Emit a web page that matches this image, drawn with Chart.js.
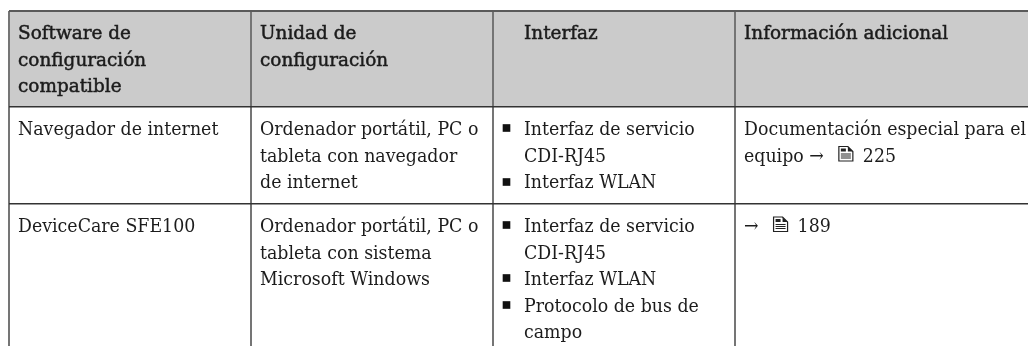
<!DOCTYPE html>
<html>
<head>
<meta charset="utf-8">
<style>
  html, body { margin: 0; padding: 0; background: #fff; }
  #wrap { width: 1028px; height: 346px; position: relative; overflow: hidden; }
</style>
<script src="https://cdn.jsdelivr.net/npm/chart.js@4"></script>
</head>
<body>
<div id="wrap"><canvas id="myChart" width="1028" height="346"></canvas></div>
<script>
// Table text, one array per row, one inner array of lines per column
const headerCells = [
    ["Software de", "configuración", "compatible"],
    ["Unidad de", "configuración"],
    ["Interfaz"],
    ["Información adicional"]
];
const browserCells = [
    ["Navegador de internet"],
    ["Ordenador portátil, PC o", "tableta con navegador", "de internet"],
    ["Interfaz de servicio", "CDI-RJ45", "Interfaz WLAN"],
    ["Documentación especial para el", "equipo →"]
];
const deviceCareCells = [
    ["DeviceCare SFE100"],
    ["Ordenador portátil, PC o", "tableta con sistema", "Microsoft Windows"],
    ["Interfaz de servicio", "CDI-RJ45", "Interfaz WLAN", "Protocolo de bus de", "campo"],
    ["→"]
];
const pageRefs = ["225", "189"];

// Rule positions, on the x and y scales
const columnEdges = [9, 251, 493, 735];
const rowEdges = [11, 107, 204];
const pageEnd = [1028, 346];

// Bullets of the "Interfaz" column
const bulletX = [506.5, 506.5, 506.5, 506.5, 506.5];
const bulletY = [128, 182, 225, 278, 305];

const font = "DejaVu Serif";
const fontSize = 19;
const bodySqueeze = 0.915;   // the original face is narrower than DejaVu Serif
const headSqueeze = 0.97;
const textColor = "#1c1c1c";
const lineHeight = 26.5;

function drawDocIcon(ctx, x, y) {
    // small page symbol in front of the page number, x/y is the top left corner
    ctx.save();
    ctx.strokeStyle = "#222";
    ctx.fillStyle = "#222";
    ctx.lineWidth = 1.2;
    ctx.beginPath();
    ctx.moveTo(x + 1, y + 1);
    ctx.lineTo(x + 10, y + 1);
    ctx.lineTo(x + 15, y + 6);
    ctx.lineTo(x + 15, y + 15.5);
    ctx.lineTo(x + 1, y + 15.5);
    ctx.closePath();
    ctx.stroke();
    ctx.beginPath();
    ctx.moveTo(x + 10, y + 1);
    ctx.lineTo(x + 15, y + 6);
    ctx.lineTo(x + 10, y + 6);
    ctx.closePath();
    ctx.fill();
    ctx.fillRect(x + 3, y + 3, 5, 3);
    ctx.fillRect(x + 3, y + 8, 10, 1);
    ctx.fillRect(x + 3, y + 10, 10, 1);
    ctx.fillRect(x + 3, y + 12, 10, 1);
    ctx.restore();
}

function putText(ctx, str, x, y, squeeze, bold) {
    ctx.save();
    ctx.translate(x, y);
    ctx.scale(squeeze, 1);
    ctx.fillText(str, 0, 0);
    if (bold) {
        ctx.strokeStyle = textColor;
        ctx.lineWidth = 0.5;
        ctx.strokeText(str, 0, 0);
    }
    ctx.restore();
}

const cellText = {
    id: "cellText",
    afterDatasetsDraw(chart) {
        const ctx = chart.ctx;
        const xs = chart.scales.x;
        const ys = chart.scales.y;
        const textLeft = [9, 9, 31, 9];
        const firstBaseline = 28;

        ctx.save();
        ctx.fillStyle = textColor;
        ctx.textBaseline = "alphabetic";
        ctx.font = fontSize + "px '" + font + "'";

        function drawRow(cells, rowIdx, bold) {
            const squeeze = bold ? headSqueeze : bodySqueeze;
            cells.forEach((lines, col) => {
                const x = xs.getPixelForValue(columnEdges[col]) + textLeft[col];
                const top = ys.getPixelForValue(rowEdges[rowIdx]);
                lines.forEach((line, i) => {
                    const y = top + firstBaseline + i * lineHeight;
                    putText(ctx, line, x, y, squeeze, bold);
                    // page reference goes after the arrow
                    if (col === 3 && rowIdx > 0 && i === lines.length - 1) {
                        const ix = x + ctx.measureText(line).width * squeeze + 14;
                        drawDocIcon(ctx, ix, y - 16);
                        putText(ctx, pageRefs[rowIdx - 1], ix + 25, y, squeeze, false);
                    }
                });
            });
        }

        drawRow(headerCells, 0, true);
        drawRow(browserCells, 1, false);
        drawRow(deviceCareCells, 2, false);
        ctx.restore();
    }
};

const config = {
    type: "line",
    data: {
        datasets: [
            {
                // grey header band
                label: "header",
                data: [
                    { x: columnEdges[0], y: rowEdges[0] },
                    { x: pageEnd[0], y: rowEdges[0] }
                ],
                borderWidth: 0,
                pointRadius: 0,
                fill: { value: rowEdges[1] },
                backgroundColor: "#cbcbcb"
            },
            {
                type: "scatter",
                label: "bullets",
                data: bulletX.map((x, i) => ({ x: x, y: bulletY[i] })),
                pointStyle: "rect",
                pointRadius: 5.4,
                backgroundColor: "#111",
                borderWidth: 0
            }
        ]
    },
    options: {
        responsive: false,
        animation: false,
        layout: { autoPadding: false, padding: { left: 9, top: 11, right: 0, bottom: 0 } },
        plugins: {
            legend: { display: false },
            tooltip: { enabled: false }
        },
        scales: {
            x: {
                type: "linear",
                min: columnEdges[0],
                max: pageEnd[0],
                afterBuildTicks: scale => {
                    scale.ticks = columnEdges.map(v => ({ value: v }));
                },
                ticks: { display: false },
                border: { display: false },
                grid: { color: "#757575", lineWidth: 2, drawTicks: false, z: 1 }
            },
            y: {
                type: "linear",
                reverse: true,
                min: rowEdges[0],
                max: pageEnd[1],
                afterBuildTicks: scale => {
                    scale.ticks = rowEdges.map(v => ({ value: v }));
                },
                ticks: { display: false },
                border: { display: false },
                grid: {
                    color: ctx => (ctx.index === 0 ? "#5a5a5a" : "#333"),
                    lineWidth: ctx => (ctx.index === 0 ? 2 : 1.5),
                    drawTicks: false,
                    z: 1
                }
            }
        }
    },
    plugins: [cellText]
};

const ctx = document.getElementById("myChart").getContext("2d");
const myChart = new Chart(ctx, config);
</script>
</body>
</html>
